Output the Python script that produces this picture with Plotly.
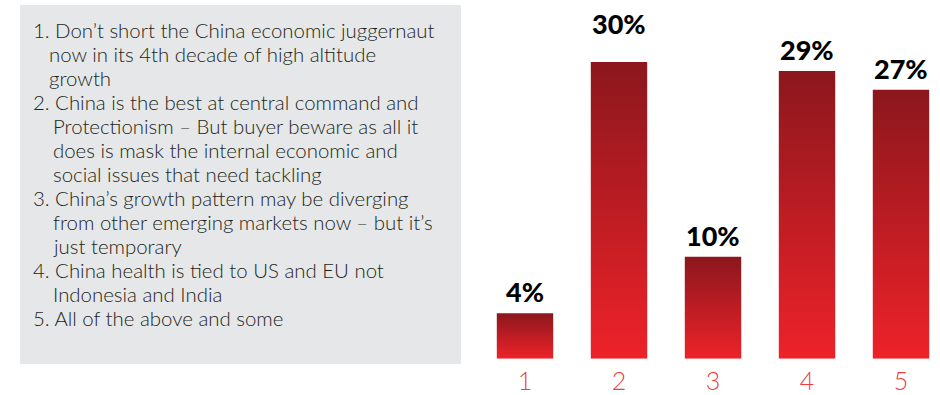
import plotly.graph_objects as go

# ---- data ----
categories = ["1", "2", "3", "4", "5"]
values = [4.6, 30.0, 10.3, 29.1, 27.2]          # bar heights (%)
value_labels = ["4%", "30%", "10%", "29%", "27%"]

items = [
    ["1. Don\u2019t short the China economic juggernaut",
     "now in its 4th decade of high altitude",
     "growth"],
    ["2. China is the best at central command and",
     "Protectionism \u2013 But buyer beware as all it",
     "does is mask the internal economic and",
     "social issues that need tackling"],
    ["3. China\u2019s growth pattern may be diverging",
     "from other emerging markets now \u2013 but it\u2019s",
     "just temporary"],
    ["4. China health is tied to US and EU not",
     "Indonesia and India"],
    ["5. All of the above and some"],
]

# ---- layout constants ----
W, H = 940, 395
BAR_HALF = 0.3
TOP_COLOR = "#8B171D"
BOTTOM_COLOR = "#EE2229"

fig = go.Figure()

for i, v in enumerate(values):
    fig.add_trace(go.Scatter(
        x=[i - BAR_HALF, i + BAR_HALF, i + BAR_HALF, i - BAR_HALF, i - BAR_HALF],
        y=[0, 0, v, v, 0],
        mode="none",
        fill="toself",
        fillgradient=dict(type="vertical",
                          colorscale=[[0, BOTTOM_COLOR], [1, TOP_COLOR]]),
        hoverinfo="skip",
        showlegend=False,
    ))

annotations = []
shifts = [3, 20, 3, 3, 3]
for i, (v, lab) in enumerate(zip(values, value_labels)):
    annotations.append(dict(
        x=i, y=v, xref="x", yref="y", text="<b>" + lab + "</b>", showarrow=False,
        yanchor="bottom", xanchor="center", yshift=shifts[i],
        font=dict(family="Lato Black, Lato", size=27, weight=900, color="#000000"),
    ))

# left text box
line_y0, line_step = 30, 24.0
k = 0
for n, item in enumerate(items):
    for j, line in enumerate(item):
        xpx = 31 if j == 0 else (47 if n == 0 else 51)
        ypx = line_y0 + k * line_step
        annotations.append(dict(
            x=xpx / W, y=1 - ypx / H, xref="paper", yref="paper",
            text=line, showarrow=False, xanchor="left", yanchor="middle",
            font=dict(family="Lato", size=20.4, weight=300, color="#231F20"),
        ))
        k += 1

base_px = 358.7
px_per_unit = 9.89
x_left_px = 478
fig.update_layout(
    width=W, height=H,
    margin=dict(l=0, r=0, t=0, b=0),
    paper_bgcolor="white", plot_bgcolor="white",
    xaxis=dict(
        domain=[x_left_px / W, 1],
        range=[-0.5, -0.5 + (W - x_left_px) / 94.0],
        tickvals=list(range(len(categories))), ticktext=categories,
        showgrid=False, zeroline=False, showline=False, ticks="",
        ticklabelstandoff=5,
        tickfont=dict(family="Lato", size=25, weight=300, color="#EE3B44"),
        fixedrange=True,
    ),
    yaxis=dict(
        domain=[(H - base_px) / H, 1],
        range=[0, base_px / px_per_unit],
        showgrid=False, zeroline=False, showline=False, showticklabels=False,
        fixedrange=True,
    ),
    shapes=[dict(type="rect", xref="paper", yref="paper",
                 x0=20 / W, x1=461 / W, y0=1 - 364 / H, y1=1 - 5 / H,
                 fillcolor="#E6E7E8", line=dict(width=0), layer="below")],
    annotations=annotations,
)

fig.write_html("out.html")
